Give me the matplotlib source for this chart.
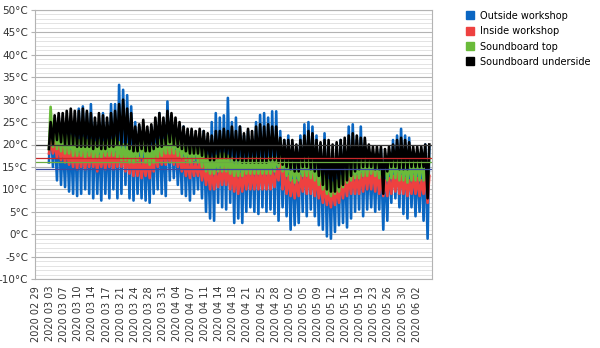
import matplotlib
matplotlib.use("Agg")
import matplotlib.pyplot as plt
import matplotlib.dates as mdates
from matplotlib.lines import Line2D
from matplotlib.ticker import MultipleLocator
import pandas as pd

# daily readings, one high and one low per day, starting 2020-03-03
first_day = "2020-03-03"

outside_max = [25, 24, 26, 22, 24, 23, 25, 28, 28.5, 27,
               29, 25, 24, 27, 25, 29, 29, 33.3, 32.2, 31,
               28.5, 25, 24, 23, 22, 24, 25, 27, 24, 29.6,
               26, 23, 22, 24, 22, 23, 21, 22, 23, 21,
               25, 27, 26, 26.5, 30.4, 25, 26, 24, 22, 23,
               21, 25, 26.6, 27, 26, 27.4, 27.4, 23, 21, 22,
               20, 18, 22, 24.5, 25, 24, 22, 20, 22.5, 19,
               17, 20, 21, 19, 24, 24.5, 21, 24, 20, 18,
               17, 18, 19, 17, 18, 21, 22, 23.5, 22, 21.5,
               17, 16, 18, 20, 19.6]
outside_min = [16, 15, 12, 11, 10.5, 9.5, 9, 8.5, 9, 10,
               9, 8, 9, 7.5, 9, 8, 10, 8, 9, 11,
               8, 7.5, 9, 8, 7.5, 7, 9, 10, 9, 8.5,
               12, 12.5, 11, 9, 8.5, 7.5, 9, 10, 8, 5,
               3.5, 3, 7, 6, 5.5, 7, 2.5, 3.5, 2.5, 5,
               6, 5, 4.5, 6, 5, 5.5, 4.5, 3, 6, 4,
               1, 2, 2.5, 5, 4, 5.5, 4, 2, 1, -0.5,
               -1, 0.5, 2, 2.5, 1.5, 3.5, 5, 5.5, 4, 5.5,
               6, 5, 5.5, 1, 3, 7, 8, 6, 4.5, 3.5,
               6, 4, 5, 3, -1]

inside_max = [21, 20.5, 20, 19.5, 19, 18.5, 19, 18, 18.5, 18,
              18.5, 18, 17.5, 18, 18, 18.5, 18, 19, 18.5, 18,
              17.5, 17, 17, 16.5, 17, 16.5, 18, 18.5, 19, 19,
              19, 18.5, 18, 17, 16.5, 16.5, 16, 16.5, 15.5, 15,
              14, 14, 14.5, 15, 15, 14, 14, 13.5, 14, 14.5,
              14, 14, 14.5, 14, 14.5, 14, 14.5, 20, 14, 13,
              12, 12, 13, 14, 14, 13.5, 13, 12, 11, 10,
              10, 10.5, 11, 12, 12.5, 13, 13, 13.5, 14, 14,
              14.5, 14, 13, 12, 12.5, 13, 13.5, 13, 12.5, 12,
              13, 12.5, 12, 14, 13]
inside_min = [18, 18, 17, 16.5, 16, 15.5, 15, 14.5, 15, 14.5,
              15, 15, 14, 15, 14.5, 15, 14.5, 15, 15, 14,
              13.5, 13, 13, 12.5, 13, 12.5, 14, 15, 15.5, 15.5,
              16, 15.5, 15, 14, 13, 12.5, 13, 13, 12, 11,
              10, 10, 10.5, 11, 11, 10, 9.5, 9, 9.5, 10,
              10, 10, 10, 10, 10, 10, 10.5, 12, 10, 9,
              8.5, 8, 8.5, 9.5, 9, 9, 8.5, 8, 7, 6.5,
              6, 6.5, 7, 8, 8.5, 9, 9, 9, 9.5, 10,
              10, 9.5, 9, 8.5, 8.5, 9, 9.5, 9, 9, 8.5,
              9, 9, 8.5, 9, 7]

top_max = [28.4, 25, 23, 22.5, 22, 22, 21.5, 21, 21.5, 21,
           21, 20.5, 21, 20.5, 21, 21, 21.5, 20.5, 20, 20,
           19.5, 20, 22, 22.5, 20, 19.5, 20, 21, 21, 22,
           23, 22.5, 21.5, 20.5, 20, 19.5, 20.5, 20, 19, 17.5,
           17, 17.5, 18, 18, 17.5, 17, 16.5, 17, 16.5, 17,
           17, 17, 17, 16.5, 17, 17, 17, 21, 18, 17,
           16, 15.5, 16.5, 17, 17.5, 17, 16, 15, 13, 12,
           11.5, 12, 13, 14.5, 15.5, 16, 16, 16.5, 17, 17,
           17, 17, 17, 16, 16.5, 17, 17.5, 17, 16.5, 16.5,
           17, 17, 17, 17, 17]
top_min = [19, 19.5, 19, 18.5, 18, 18, 17.5, 17.5, 17.5, 17,
           17.5, 17, 17, 17, 17.5, 17.5, 17.5, 17, 16.5, 16.5,
           16, 16, 16.5, 17, 16, 15.5, 16, 17, 17.5, 18,
           18, 18, 17.5, 17, 16.5, 16, 16.5, 16, 15, 14,
           13.5, 13.5, 14, 14, 14, 13.5, 13, 13, 13, 13.5,
           13.5, 13.5, 13.5, 13.5, 13.5, 13.5, 14, 15, 14, 13,
           12, 11.5, 12, 13, 13, 12.5, 12, 11, 10, 9,
           8.5, 9, 9.5, 10.5, 11.5, 12, 12.5, 12.5, 13, 13,
           13.5, 13, 12.5, 12, 12, 12.5, 12.5, 12, 12, 11.5,
           12, 12, 12, 12, 11]

under_max = [25, 26.5, 27, 27, 27.5, 28, 27.5, 27.5, 28, 27.5,
             27, 26, 27, 26.5, 26, 27, 27.5, 29, 30, 28,
             27, 24, 24.5, 25.5, 24, 24.5, 26, 27, 26, 27.5,
             27, 26, 25, 24, 23.5, 23.5, 23, 23.5, 23, 22.5,
             22, 23, 23, 23.5, 23, 24, 23, 24, 22.5, 23.5,
             23, 24, 24.5, 24, 24.5, 24, 24, 21.5, 21, 21,
             21, 20, 21, 22, 23, 22.5, 21, 20.5, 21, 21,
             20, 20.5, 21, 21.5, 22, 22.5, 22, 21.5, 21.5, 20,
             19.5, 19.5, 19.5, 19, 19.5, 20, 21, 21.5, 21, 20.5,
             19.5, 19.5, 19.5, 20, 20]
under_min = [19, 20, 21, 20.5, 20, 20, 20, 19.5, 19.5, 19.5,
             19.5, 19, 19.5, 19, 19, 19.5, 19.5, 20, 20, 20,
             19, 18.5, 18.5, 19, 18.5, 18.5, 19, 19.5, 19.5, 20,
             20.5, 20, 19.5, 19, 18.5, 18, 18, 18, 17.5, 17,
             16.5, 16.5, 17, 17, 17, 17, 16.5, 16.5, 16, 16,
             16, 16, 16, 16, 16, 16.5, 16.5, 16, 15.5, 15,
             14.5, 14, 14, 15, 15, 14.5, 14, 13, 11, 10,
             9.5, 9.5, 10.5, 11, 12, 13, 14, 14.5, 15, 15,
             15, 14.5, 14.5, 9, 14, 15, 15, 14.5, 14.5, 14.5,
             15, 15, 15, 15, 8]

series_names = ["Outside workshop", "Inside workshop", "Soundboard top", "Soundboard underside"]
series_highs = [outside_max, inside_max, top_max, under_max]
series_lows = [outside_min, inside_min, top_min, under_min]
mean_values = [14.6, 17.1, 16.0, 20.0]

colors = ["#0a66c2", "#ee4140", "#6abb3a", "#000000"]
mean_colors = ["#3b4ba0", "#c8282a", "#6aac40", "#3a3a3a"]

days = pd.date_range(first_day, periods=len(outside_max), freq="D")


def daily_trace(highs, lows):
    t = []
    v = []
    for day, hi, lo in zip(days, highs, lows):
        t += [day + pd.Timedelta(hours=5), day + pd.Timedelta(hours=15)]
        v += [lo, hi]
    return t, v


fig = plt.figure(figsize=(6, 3.48), dpi=100)
ax = fig.add_axes([35 / 600, 1 - 279 / 348, 397 / 600, 269 / 348])

for name, hi, lo, c in zip(series_names, series_highs, series_lows, colors):
    t, v = daily_trace(hi, lo)
    ax.plot(t, v, color=c, lw=1.9)

for m, c in zip(mean_values, mean_colors):
    ax.axhline(m, color=c, lw=0.9)

start = pd.Timestamp("2020-02-29")
ax.set_xlim(start - pd.Timedelta(hours=6), start + pd.Timedelta(days=98.3))

ticks = [start + pd.Timedelta(hours=84 * k) for k in range(28)]
ax.set_xticks(ticks)
ax.xaxis.set_major_formatter(mdates.DateFormatter("%Y %m %d"))
ax.tick_params(axis="x", rotation=90, labelsize=7, length=0, pad=5, colors="#333333")

yt = list(range(-10, 51, 5))
ax.set_yticks(yt)
ax.set_yticklabels([f"{y}°C" for y in yt])
ax.yaxis.set_minor_locator(MultipleLocator(1))
ax.set_ylim(-10, 50)
ax.tick_params(axis="y", labelsize=7.5, length=3, width=0.8, color="#b3b3b3", colors="#333333", pad=2)
ax.tick_params(axis="y", which="minor", length=0)

ax.grid(axis="y", which="major", color="#b3b3b3", lw=0.8)
ax.grid(axis="y", which="minor", color="#dedede", lw=0.6)
ax.set_axisbelow(True)
for s in ax.spines.values():
    s.set_color("#b3b3b3")
    s.set_linewidth(0.8)

handles = [Line2D([], [], marker="s", linestyle="none", markersize=5.5, color=c) for c in colors]
fig.legend(handles, series_names, loc="upper left", bbox_to_anchor=(0.77, 0.98),
           frameon=False, fontsize=7, handlelength=0.8, handletextpad=0.6,
           labelspacing=0.55, borderaxespad=0)

fig.savefig("out.png", dpi=100)
